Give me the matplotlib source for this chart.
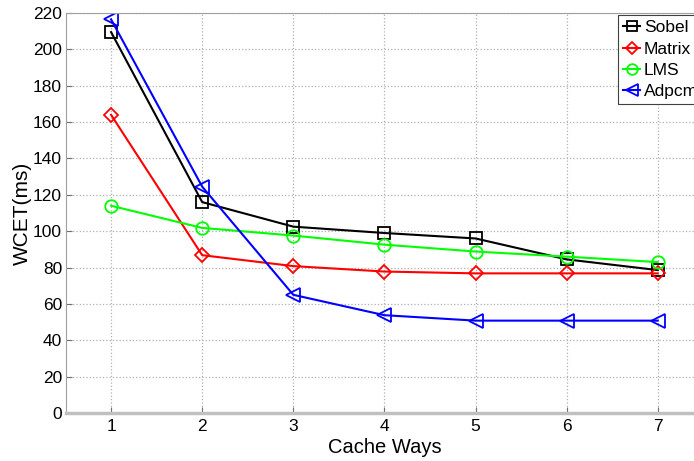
import matplotlib.pyplot as plt
import numpy as np

plt.rcParams['font.family'] = ['Liberation Sans', 'DejaVu Sans']

ways = [1, 2, 3, 4, 5, 6, 7]
sobel = [209.5, 116, 102.5, 99, 96, 84.5, 78.6]
matrix = [164, 86.8, 80.8, 77.8, 76.8, 76.8, 76.8]
lms = [114, 101.8, 97.6, 92.6, 88.8, 86, 83]
adpcm = [216.5, 124.5, 65, 53.8, 50.8, 50.8, 50.8]

fig = plt.figure(figsize=(6.94, 4.61), dpi=100)
ax = fig.add_axes([0.0944, 0.1041, 0.919, 0.8677])

ax.plot(ways, sobel, 's-', color='black', lw=1.5, ms=8, mfc='none', mew=1.3, label='Sobel')
ax.plot(ways, matrix, 'D-', color='red', lw=1.5, ms=7, mfc='none', mew=1.3, label='Matrix')
ax.plot(ways, lms, 'o-', color='#00ff00', lw=1.5, ms=9, mfc='none', mew=1.3, label='LMS')
ax.plot(ways, adpcm, '<-', color='blue', lw=1.5, ms=10, mfc='none', mew=1.3, label='Adpcm')

ax.set_xlim(0.5, 7.5)
ax.set_ylim(0, 220)
ax.set_xticks(ways)
ax.set_yticks(np.arange(0, 221, 20))
ax.grid(True, ls=':', color='#b0b0b0', lw=0.9)
ax.tick_params(direction='in', length=4, labelsize=12.5, color='#707070')
ax.tick_params(axis='y', pad=2.5)
ax.tick_params(axis='x', pad=4)
for s in ax.spines.values():
    s.set_color('#a0a0a0')
ax.spines['bottom'].set_linewidth(2.5)
ax.spines['bottom'].set_color('#c0c0c0')

ax.set_xlabel('Cache Ways', fontsize=14.5, labelpad=3)
ax.set_ylabel('WCET(ms)', fontsize=15, labelpad=1)

leg = ax.legend(loc='upper right', bbox_to_anchor=(1.0, 0.995), borderaxespad=0,
                fontsize=12.5, handlelength=1.0, handletextpad=0.2, borderpad=0.3,
                labelspacing=0.35, fancybox=False, framealpha=1, edgecolor='#404040',
                markerscale=0.85)
leg.get_frame().set_linewidth(0.8)

fig.savefig('out.png', dpi=100)
